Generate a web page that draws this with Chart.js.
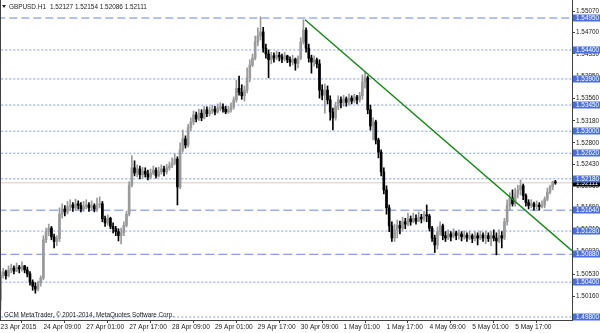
<!DOCTYPE html>
<html lang="en">
  <head>
    <meta charset="UTF-8" />
    <script src="https://cdn.jsdelivr.net/npm/chart.js@4.4.0/dist/chart.umd.min.js"></script>
    <title>GBPUSD H1</title>
    <style>
      html, body { margin: 0; padding: 0; background: #fff; }
    </style>
  </head>
  <body>
    <canvas id="chart" width="600" height="333"></canvas>
    <script>
      // GBPUSD H1 bars, 23 Apr 2015 17:00 .. 6 May 2015 08:00 (bar index = hour count)
      const opens = [
        1.5009, 1.5052, 1.5058, 1.5051, 1.5061, 1.5064, 1.5059, 1.5066, 1.5063, 1.5068, 1.5061, 1.5054, 1.5040, 1.5033, 1.5028, 1.5039,
        1.5047, 1.5113, 1.5127, 1.5133, 1.5118, 1.5110, 1.5115, 1.5157, 1.5166, 1.5161, 1.5170, 1.5173, 1.5168, 1.5175, 1.5172, 1.5166,
        1.5170, 1.5173, 1.5168, 1.5172, 1.5166, 1.5173, 1.5175, 1.5149, 1.5142, 1.5150, 1.5136, 1.5132, 1.5127, 1.5120, 1.5125, 1.5138,
        1.5157, 1.5207, 1.5237, 1.5228, 1.5235, 1.5225, 1.5231, 1.5226, 1.5221, 1.5228, 1.5233, 1.5223, 1.5230, 1.5235, 1.5230, 1.5237,
        1.5240, 1.5245, 1.5252, 1.5204, 1.5268, 1.5287, 1.5276, 1.5306, 1.5316, 1.5328, 1.5321, 1.5331, 1.5323, 1.5337, 1.5330, 1.5335,
        1.5338, 1.5333, 1.5340, 1.5342, 1.5338, 1.5333, 1.5337, 1.5342, 1.5354, 1.5374, 1.5367, 1.5361, 1.5371, 1.5392, 1.5414, 1.5426,
        1.5454, 1.5464, 1.5471, 1.5443, 1.5433, 1.5423, 1.5430, 1.5426, 1.5431, 1.5428, 1.5424, 1.5430, 1.5423, 1.5419, 1.5424, 1.5417,
        1.5426, 1.5454, 1.5474, 1.5443, 1.5426, 1.5419, 1.5423, 1.5416, 1.5371, 1.5362, 1.5371, 1.5354, 1.5333, 1.5323, 1.5343, 1.5354,
        1.5349, 1.5356, 1.5350, 1.5357, 1.5352, 1.5359, 1.5354, 1.5361, 1.5385, 1.5392, 1.5337, 1.5309, 1.5316, 1.5285, 1.5264, 1.5230,
        1.5199, 1.5168, 1.5137, 1.5116, 1.5130, 1.5138, 1.5133, 1.5144, 1.5140, 1.5149, 1.5144, 1.5150, 1.5145, 1.5152, 1.5149, 1.5156,
        1.5154, 1.5133, 1.5116, 1.5104, 1.5127, 1.5137, 1.5120, 1.5116, 1.5123, 1.5118, 1.5125, 1.5120, 1.5123, 1.5118, 1.5121, 1.5116,
        1.5120, 1.5115, 1.5120, 1.5116, 1.5121, 1.5116, 1.5120, 1.5115, 1.5120, 1.5116, 1.5111, 1.5120, 1.5116, 1.5144, 1.5173, 1.5185,
        1.5175, 1.5192, 1.5199, 1.5206, 1.5189, 1.5177, 1.5172, 1.5175, 1.5170, 1.5173, 1.5170, 1.5173, 1.5183, 1.5195, 1.5204, 1.52127
      ];
      const highs = [
        1.5058, 1.5064, 1.5061, 1.5068, 1.5071, 1.5068, 1.5073, 1.5069, 1.5075, 1.5069, 1.5066, 1.5058, 1.5044, 1.5039, 1.5042, 1.5051,
        1.5120, 1.5133, 1.5140, 1.5136, 1.5123, 1.5120, 1.5168, 1.5175, 1.5172, 1.5179, 1.5182, 1.5177, 1.5183, 1.5180, 1.5177, 1.5179,
        1.5182, 1.5177, 1.5180, 1.5175, 1.5185, 1.5187, 1.5179, 1.5154, 1.5156, 1.5152, 1.5142, 1.5136, 1.5132, 1.5133, 1.5144, 1.5162,
        1.5213, 1.5258, 1.5249, 1.5242, 1.5240, 1.5238, 1.5237, 1.5233, 1.5235, 1.5240, 1.5237, 1.5238, 1.5242, 1.5240, 1.5243, 1.5247,
        1.5254, 1.5261, 1.5256, 1.5280, 1.5302, 1.5292, 1.5312, 1.5323, 1.5335, 1.5333, 1.5338, 1.5337, 1.5343, 1.5342, 1.5342, 1.5345,
        1.5343, 1.5347, 1.5349, 1.5347, 1.5343, 1.5343, 1.5349, 1.5359, 1.5388, 1.5395, 1.5380, 1.5378, 1.5409, 1.5423, 1.5433, 1.5464,
        1.5478, 1.5497, 1.5479, 1.5450, 1.5440, 1.5436, 1.5435, 1.5438, 1.5436, 1.5433, 1.5436, 1.5431, 1.5428, 1.5431, 1.5426, 1.5430,
        1.5461, 1.5492, 1.5478, 1.5450, 1.5431, 1.5430, 1.5426, 1.5423, 1.5380, 1.5381, 1.5378, 1.5361, 1.5340, 1.5350, 1.5361, 1.5359,
        1.5362, 1.5359, 1.5364, 1.5361, 1.5364, 1.5362, 1.5367, 1.5397, 1.5402, 1.5395, 1.5345, 1.5323, 1.5319, 1.5288, 1.5268, 1.5237,
        1.5206, 1.5173, 1.5144, 1.5140, 1.5147, 1.5145, 1.5152, 1.5150, 1.5159, 1.5154, 1.5159, 1.5156, 1.5161, 1.5157, 1.5162, 1.5173,
        1.5157, 1.5136, 1.5121, 1.5135, 1.5144, 1.5140, 1.5127, 1.5130, 1.5127, 1.5132, 1.5128, 1.5130, 1.5127, 1.5128, 1.5125, 1.5128,
        1.5123, 1.5127, 1.5125, 1.5128, 1.5125, 1.5128, 1.5125, 1.5127, 1.5130, 1.5125, 1.5130, 1.5127, 1.5150, 1.5182, 1.5194, 1.5199,
        1.5202, 1.5207, 1.5216, 1.5209, 1.5192, 1.5182, 1.5182, 1.5178, 1.5180, 1.5177, 1.5180, 1.5187, 1.5202, 1.5207, 1.5214, 1.52154
      ];
      const lows = [
        1.4992, 1.5047, 1.5045, 1.5049, 1.5056, 1.5054, 1.5058, 1.5056, 1.5059, 1.5056, 1.5049, 1.5035, 1.5026, 1.5021, 1.5025, 1.5033,
        1.5044, 1.5108, 1.5120, 1.5113, 1.5099, 1.5103, 1.5110, 1.5150, 1.5154, 1.5157, 1.5164, 1.5162, 1.5164, 1.5166, 1.5161, 1.5162,
        1.5166, 1.5162, 1.5164, 1.5161, 1.5162, 1.5168, 1.5144, 1.5136, 1.5138, 1.5132, 1.5125, 1.5120, 1.5111, 1.5106, 1.5120, 1.5135,
        1.5154, 1.5204, 1.5223, 1.5221, 1.5218, 1.5219, 1.5221, 1.5216, 1.5218, 1.5225, 1.5219, 1.5221, 1.5226, 1.5223, 1.5226, 1.5233,
        1.5237, 1.5242, 1.5173, 1.5201, 1.5264, 1.5271, 1.5273, 1.5301, 1.5311, 1.5316, 1.5318, 1.5318, 1.5321, 1.5325, 1.5326, 1.5330,
        1.5328, 1.5331, 1.5335, 1.5333, 1.5330, 1.5331, 1.5333, 1.5338, 1.5350, 1.5362, 1.5355, 1.5352, 1.5366, 1.5385, 1.5411, 1.5423,
        1.5447, 1.5457, 1.5436, 1.5426, 1.5392, 1.5416, 1.5419, 1.5423, 1.5421, 1.5418, 1.5421, 1.5418, 1.5412, 1.5414, 1.5405, 1.5409,
        1.5423, 1.5450, 1.5436, 1.5419, 1.5400, 1.5412, 1.5409, 1.5357, 1.5354, 1.5331, 1.5347, 1.5319, 1.5302, 1.5319, 1.5337, 1.5340,
        1.5343, 1.5343, 1.5345, 1.5347, 1.5349, 1.5347, 1.5350, 1.5355, 1.5374, 1.5330, 1.5302, 1.5285, 1.5278, 1.5254, 1.5223, 1.5192,
        1.5157, 1.5127, 1.5110, 1.5110, 1.5116, 1.5123, 1.5128, 1.5132, 1.5137, 1.5138, 1.5142, 1.5140, 1.5144, 1.5142, 1.5145, 1.5144,
        1.5128, 1.5110, 1.5091, 1.5097, 1.5121, 1.5113, 1.5110, 1.5113, 1.5111, 1.5116, 1.5113, 1.5114, 1.5111, 1.5114, 1.5110, 1.5113,
        1.5108, 1.5111, 1.5104, 1.5113, 1.5110, 1.5106, 1.5110, 1.5103, 1.5111, 1.5087, 1.5108, 1.5099, 1.5113, 1.5138, 1.5164, 1.5171,
        1.5171, 1.5185, 1.5190, 1.5182, 1.5171, 1.5166, 1.5168, 1.5164, 1.5166, 1.5164, 1.5168, 1.5168, 1.5180, 1.5192, 1.5199, 1.52086
      ];
      const closes = [
        1.5052, 1.5058, 1.5051, 1.5061, 1.5064, 1.5059, 1.5066, 1.5063, 1.5068, 1.5061, 1.5054, 1.5040, 1.5033, 1.5028, 1.5039, 1.5047,
        1.5113, 1.5127, 1.5133, 1.5118, 1.5110, 1.5115, 1.5157, 1.5166, 1.5161, 1.5170, 1.5173, 1.5168, 1.5175, 1.5172, 1.5166, 1.5170,
        1.5173, 1.5168, 1.5172, 1.5166, 1.5173, 1.5175, 1.5149, 1.5142, 1.5150, 1.5136, 1.5132, 1.5127, 1.5120, 1.5125, 1.5138, 1.5157,
        1.5207, 1.5237, 1.5228, 1.5235, 1.5225, 1.5231, 1.5226, 1.5221, 1.5228, 1.5233, 1.5223, 1.5230, 1.5235, 1.5230, 1.5237, 1.5240,
        1.5245, 1.5252, 1.5204, 1.5268, 1.5287, 1.5276, 1.5306, 1.5316, 1.5328, 1.5321, 1.5331, 1.5323, 1.5337, 1.5330, 1.5335, 1.5338,
        1.5333, 1.5340, 1.5342, 1.5338, 1.5333, 1.5337, 1.5342, 1.5354, 1.5374, 1.5367, 1.5361, 1.5371, 1.5392, 1.5414, 1.5426, 1.5454,
        1.5464, 1.5471, 1.5443, 1.5433, 1.5423, 1.5430, 1.5426, 1.5431, 1.5428, 1.5424, 1.5430, 1.5423, 1.5419, 1.5424, 1.5417, 1.5426,
        1.5454, 1.5474, 1.5443, 1.5426, 1.5419, 1.5423, 1.5416, 1.5371, 1.5362, 1.5371, 1.5354, 1.5333, 1.5323, 1.5343, 1.5354, 1.5349,
        1.5356, 1.5350, 1.5357, 1.5352, 1.5359, 1.5354, 1.5361, 1.5385, 1.5392, 1.5337, 1.5309, 1.5316, 1.5285, 1.5264, 1.5230, 1.5199,
        1.5168, 1.5137, 1.5116, 1.5130, 1.5138, 1.5133, 1.5144, 1.5140, 1.5149, 1.5144, 1.5150, 1.5145, 1.5152, 1.5149, 1.5156, 1.5154,
        1.5133, 1.5116, 1.5104, 1.5127, 1.5137, 1.5120, 1.5116, 1.5123, 1.5118, 1.5125, 1.5120, 1.5123, 1.5118, 1.5121, 1.5116, 1.5120,
        1.5115, 1.5120, 1.5116, 1.5121, 1.5116, 1.5120, 1.5115, 1.5120, 1.5116, 1.5111, 1.5120, 1.5116, 1.5144, 1.5173, 1.5185, 1.5175,
        1.5192, 1.5199, 1.5206, 1.5189, 1.5177, 1.5172, 1.5175, 1.5170, 1.5173, 1.5170, 1.5173, 1.5183, 1.5195, 1.5204, 1.5213, 1.52111
      ];

      // time axis labels (every 16 bars)
      const timeTicks = [0, 16, 32, 48, 64, 80, 96, 112, 128, 144, 160, 176, 192];
      const timeLabels = ["23 Apr 2015", "24 Apr 09:00", "27 Apr 01:00", "27 Apr 17:00", "28 Apr 09:00",
        "29 Apr 01:00", "29 Apr 17:00", "30 Apr 09:00", "1 May 01:00", "1 May 17:00", "4 May 09:00",
        "5 May 01:00", "5 May 17:00"];

      // price scale ticks, horizontal lines, trend line
      const priceTicks = [1.5016, 1.5053, 1.5093, 1.5131, 1.5169, 1.5206, 1.5243, 1.5280, 1.5318, 1.5356, 1.5395, 1.5433, 1.5470, 1.5507];
      const levels = [1.5495, 1.5440, 1.5390, 1.5345, 1.5300, 1.5262, 1.5218, 1.5164, 1.5128, 1.5088, 1.5040, 1.4980];
      const levelKinds = ["wide", "dot", "dot", "dot", "dot", "dot", "dot", "dash", "dot", "dash", "dot", "dot"];
      const lastPrice = 1.52111;
      const trendX = [113.6, 213.2];
      const trendY = [1.5492, 1.5094];

      const X_MIN = -0.19, X_MAX = 213.2;
      const Y_MIN = 1.49748, Y_MAX = 1.5526;
      const FONT = "Liberation Sans";

      const candleColor = opens.map((o, i) => (closes[i] >= o ? "#9a9a9a" : "#000000"));

      const lineStyles = {
        wide: { borderColor: "#b3c2ee", borderWidth: 2, borderDash: [8, 4] },
        dot: { borderColor: "#7d96ea", borderWidth: 1, borderDash: [2, 2] },
        dash: { borderColor: "#6c86da", borderWidth: 1, borderDash: [9, 4] },
      };

      let datasets = [];
      datasets.push({
        type: "line",
        data: trendX.map((x, i) => ({ x: x, y: trendY[i] })),
        borderColor: "#178a17",
        borderWidth: 1.5,
        pointRadius: 0,
        order: 0,
      });
      datasets.push({
        type: "bar",
        data: opens.map((o, i) => ({ x: i, y: [o, closes[i]] })),
        backgroundColor: candleColor,
        barThickness: 2,
        minBarLength: 1,
        grouped: false,
        order: 1,
      });
      datasets.push({
        type: "bar",
        data: highs.map((h, i) => ({ x: i, y: [lows[i], h] })),
        backgroundColor: candleColor,
        barThickness: 1,
        grouped: false,
        order: 2,
      });
      levels.forEach((v, k) => {
        datasets.push(Object.assign({
          type: "line",
          data: [{ x: X_MIN - 1, y: v }, { x: X_MAX + 1, y: v }],
          pointRadius: 0,
          order: 3,
        }, lineStyles[levelKinds[k]]));
      });
      datasets.push({
        type: "line",
        data: [{ x: X_MIN - 1, y: lastPrice }, { x: X_MAX + 1, y: lastPrice }],
        borderColor: "#cfcfcf",
        borderWidth: 1,
        pointRadius: 0,
        order: 4,
      });

      // labels on top of the chart: price boxes, header, copyright
      const overlay = {
        id: "overlay",
        afterDraw(chart) {
          const ctx = chart.ctx;
          const a = chart.chartArea;
          const y = chart.scales.y;
          ctx.save();
          ctx.strokeStyle = "#404040";
          ctx.lineWidth = 1;
          ctx.beginPath();
          ctx.moveTo(a.left + 0.5, a.top);
          ctx.lineTo(a.left + 0.5, a.bottom);
          ctx.stroke();

          ctx.font = "6.4px '" + FONT + "'";
          ctx.textBaseline = "middle";
          const box = (v, bg) => {
            const py = Math.round(y.getPixelForValue(v));
            ctx.fillStyle = bg;
            ctx.fillRect(a.right + 1, py - 3.5, 28, 7);
            ctx.fillStyle = "#ffffff";
            ctx.fillText(v.toFixed(5), a.right + 4, py);
          };
          box(lastPrice, "#000000");
          levels.forEach((v) => box(v, "#4a6ee0"));

          // header
          ctx.fillStyle = "#222";
          ctx.beginPath();
          ctx.moveTo(2, 5);
          ctx.lineTo(6, 5);
          ctx.lineTo(4, 8);
          ctx.closePath();
          ctx.fill();
          ctx.fillText("GBPUSD.H1", 9, 7);
          ctx.fillText("1.52127 1.52154 1.52086 1.52111", 50, 7);
          ctx.font = "6.3px '" + FONT + "'";
          ctx.fillText("GCM MetaTrader, \u00a9 2001-2014, MetaQuotes Software Corp.", 4, 315);
          ctx.restore();
        },
      };

      new Chart(document.getElementById("chart"), {
        type: "bar",
        data: { datasets: datasets },
        plugins: [overlay],
        options: {
          responsive: false,
          animation: false,
          devicePixelRatio: 1,
          layout: { padding: 0 },
          plugins: { legend: { display: false }, tooltip: { enabled: false } },
          scales: {
            x: {
              type: "linear",
              min: X_MIN,
              max: X_MAX,
              offset: false,
              grid: { drawOnChartArea: false, tickLength: 3, color: "#404040" },
              border: { color: "#404040" },
              ticks: {
                autoSkip: false,
                maxRotation: 0,
                align: "start",
                padding: 0,
                color: "#222",
                font: { family: FONT, size: 6.6 },
                callback: (v) => timeLabels[timeTicks.indexOf(v)],
              },
              afterBuildTicks: (s) => { s.ticks = timeTicks.map((v) => ({ value: v })); },
              afterFit: (s) => { s.height = 13; s.paddingLeft = 0; s.paddingRight = 0; },
            },
            y: {
              position: "right",
              min: Y_MIN,
              max: Y_MAX,
              grid: { drawOnChartArea: false, tickLength: 3, color: "#404040" },
              border: { color: "#404040" },
              ticks: {
                padding: 1,
                color: "#222",
                font: { family: FONT, size: 6.4 },
                callback: (v) => v.toFixed(5),
              },
              afterBuildTicks: (s) => { s.ticks = priceTicks.map((v) => ({ value: v })); },
              afterFit: (s) => { s.width = 28; s.paddingTop = 0; s.paddingBottom = 0; },
            },
          },
        },
      });
    </script>
  </body>
</html>
